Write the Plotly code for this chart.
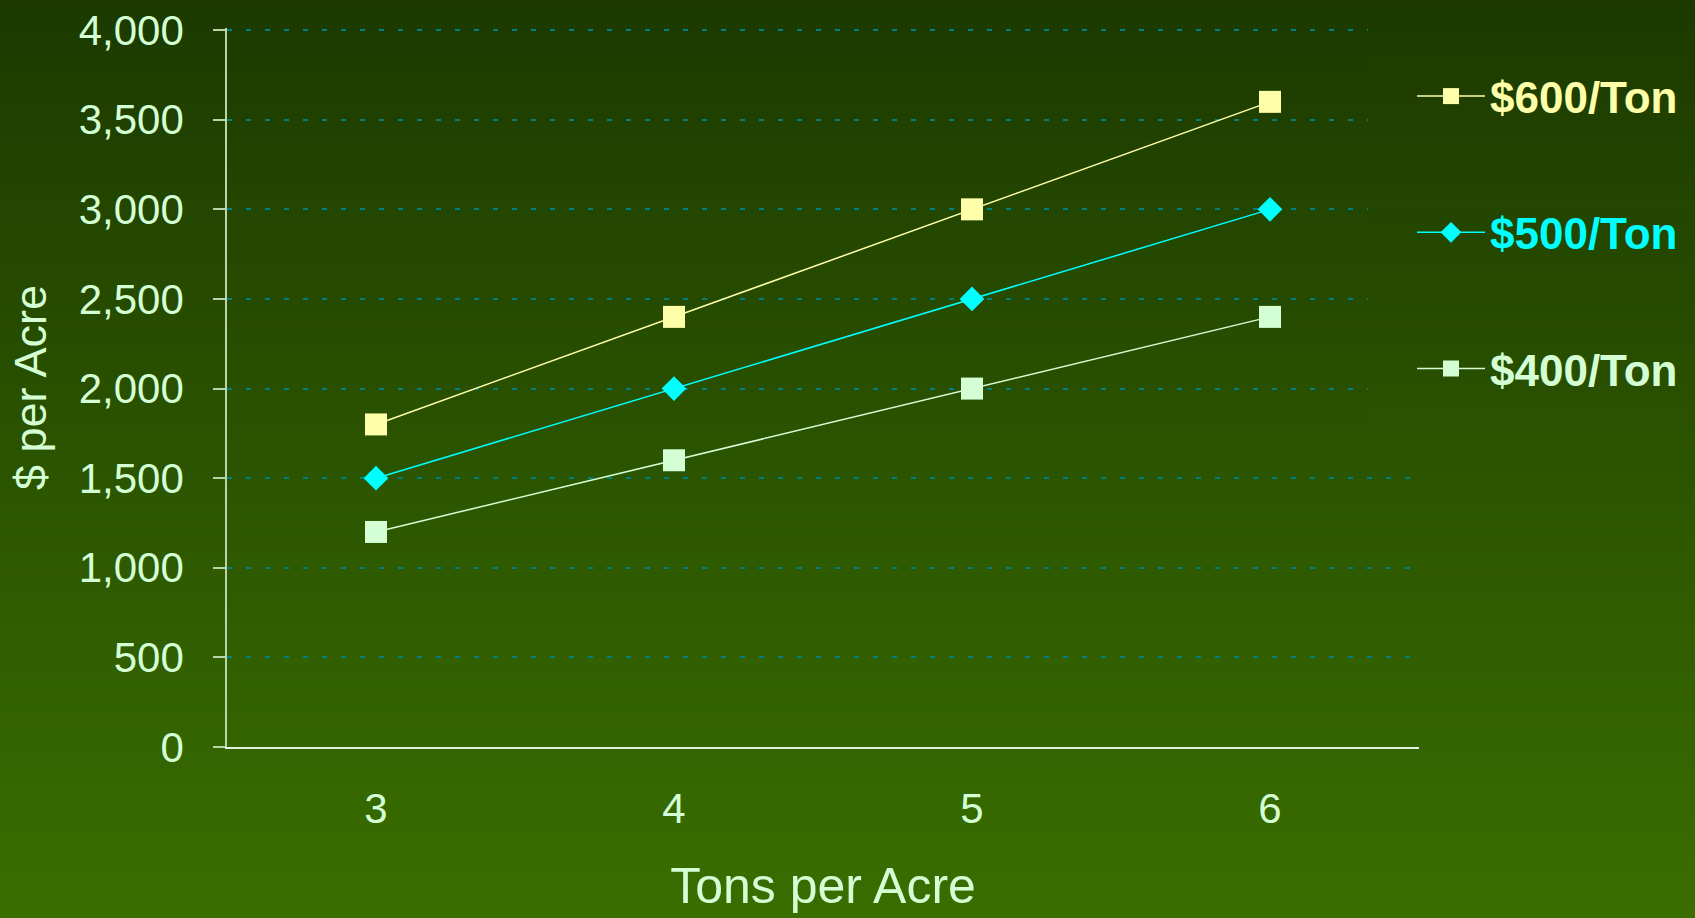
import plotly.graph_objects as go

# ---- data ----
tons = ["3", "4", "5", "6"]
price_600 = [1800, 2400, 3000, 3600]
price_500 = [1500, 2000, 2500, 3000]
price_400 = [1200, 1600, 2000, 2400]
y_ticks = [0, 500, 1000, 1500, 2000, 2500, 3000, 3500, 4000]

W, H = 1695, 918
ML, MR, MT, MB = 227, 276, 28, 171
PW, PH = W - ML - MR, H - MT - MB

C600 = "#FFFFAA"
C500 = "#00FFFF"
C400 = "#D4FFD4"
TXT = "#D4FFD4"

fig = go.Figure()

def add(name, vals, color, symbol, size, group):
    fig.add_trace(go.Scatter(
        x=tons, y=vals, mode="lines+markers",
        name=f"<b><span style='color:{color}'>{name}</span></b>",
        legendgroup=group,
        line=dict(color=color, width=1.5),
        marker=dict(symbol=symbol, size=size, color=color, line=dict(width=0)),
    ))

add("$600/Ton", price_600, C600, "square", 22, "a")
add("$500/Ton", price_500, C500, "diamond", 19, "b")
add("$400/Ton", price_400, C400, "square", 22, "c")

# vertical gradient background built from thin bands
top = (28, 58, 0)
bot = (58, 110, 0)

def px_to_px(x):
    return (x - ML) / PW

def py_to_py(y):
    return (MT + PH - y) / PH

def grad(y):
    t = y / H
    return tuple(round(top[k] + (bot[k] - top[k]) * t) for k in range(3))

shapes = []
n = 92
step = H / n
for i in range(n):
    ya, yb = i * step, (i + 1) * step
    shapes.append(dict(type="rect", xref="paper", yref="paper",
                       x0=px_to_px(0), x1=px_to_px(W),
                       y0=py_to_py(yb + 0.6), y1=py_to_py(ya - 0.6),
                       fillcolor="rgb(%d,%d,%d)" % grad((ya + yb) / 2),
                       line=dict(width=0), layer="below"))

# legend box area (hides the gridlines behind the legend, like the original)
lb_x0, lb_y1 = 1368, 430
m = 43
step2 = lb_y1 / m
for i in range(m):
    ya, yb = i * step2, (i + 1) * step2
    shapes.append(dict(type="rect", xref="paper", yref="paper",
                       x0=px_to_px(lb_x0), x1=px_to_px(W),
                       y0=py_to_py(yb + 0.6), y1=py_to_py(ya - 0.6),
                       fillcolor="rgb(%d,%d,%d)" % grad((ya + yb) / 2),
                       line=dict(width=0), layer="above"))

fig.update_layout(
    width=W, height=H,
    margin=dict(l=ML, r=MR, t=MT, b=MB, pad=0),
    paper_bgcolor="rgb(%d,%d,%d)" % grad(H / 2),
    plot_bgcolor="rgba(0,0,0,0)",
    shapes=shapes,
    font=dict(family="Liberation Sans, Arial, sans-serif", color=TXT),
    showlegend=True,
    legend=dict(
        x=px_to_px(1412), xanchor="left",
        y=py_to_py(61), yanchor="top",
        bgcolor="rgba(0,0,0,0)",
        font=dict(size=44, family="Liberation Sans, Arial, sans-serif"),
        tracegroupgap=76,
        traceorder="grouped",
        itemwidth=68,
    ),
    xaxis=dict(
        type="category", categoryorder="array", categoryarray=tons,
        range=[-0.5, 3.5], automargin=False,
        showline=True, linecolor="#E4F4DC", linewidth=1.5,
        ticks="", showgrid=False, zeroline=False,
        tickfont=dict(size=42, color=TXT),
        ticklabelstandoff=24,
        title=dict(text="Tons per Acre", font=dict(size=50, color=TXT), standoff=37),
    ),
    yaxis=dict(
        range=[0, 4012], tickvals=y_ticks, tickformat=",", automargin=False,
        showline=True, linecolor="#B8D4A8", linewidth=1.5,
        ticks="outside", ticklen=12, tickcolor="#B8D4A8", tickwidth=1.5,
        showgrid=True, gridcolor="#008080", gridwidth=2, griddash="5px,14px",
        zeroline=False,
        tickfont=dict(size=42, color=TXT),
        ticklabelstandoff=21,
        title=dict(text="$ per Acre", font=dict(size=45, color=TXT), standoff=18),
    ),
)

fig.write_html("out.html")
